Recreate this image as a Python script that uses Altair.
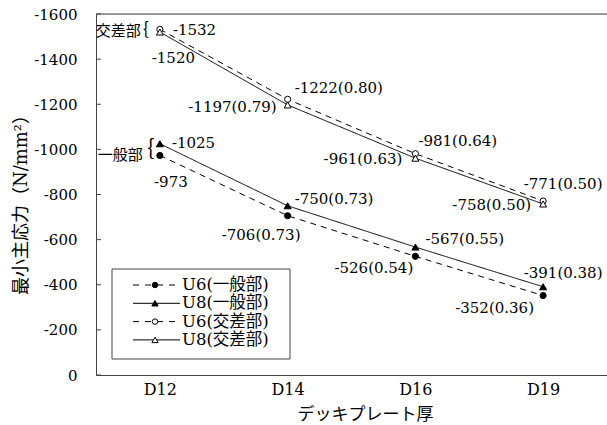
import altair as alt
import pandas as pd

# ---- data ---------------------------------------------------------------
thickness = ["D12", "D14", "D16", "D19"]
series_names = ["U6(一般部)", "U8(一般部)", "U6(交差部)", "U8(交差部)"]

u6_general = [-973, -706, -526, -352]
u8_general = [-1025, -750, -567, -391]
u6_cross = [-1532, -1222, -981, -771]
u8_cross = [-1520, -1197, -961, -758]

u6_general_ratio = [None, 0.73, 0.54, 0.36]
u8_general_ratio = [None, 0.73, 0.55, 0.38]
u6_cross_ratio = [None, 0.80, 0.64, 0.50]
u8_cross_ratio = [None, 0.79, 0.63, 0.50]

y_ticks = [-1600, -1400, -1200, -1000, -800, -600, -400, -200, 0]

values = [u6_general, u8_general, u6_cross, u8_cross]
ratios = [u6_general_ratio, u8_general_ratio, u6_cross_ratio, u8_cross_ratio]

rows = []
for name, vals, rats in zip(series_names, values, ratios):
    for t, v, r in zip(thickness, vals, rats):
        label = f"{v}" if r is None else f"{v}({r:.2f})"
        rows.append({"thickness": t, "series": name, "value": v, "label": label})
df = pd.DataFrame(rows)

# ---- styling ------------------------------------------------------------
SERIF = "DejaVu Serif, Noto Sans CJK JP"
GOTHIC = "Noto Sans CJK JP"
AXIS_GREY = "#444"

dashes = [[6, 5], [1, 0], [6, 5], [1, 0]]
marker_shape = ["circle", "triangle-up", "circle", "triangle-up"]
marker_fill = ["black", "black", "white", "white"]
marker_size = [38, 49, 38, 49]

# value-label placement: (dx, dy, align) per series and thickness
label_pos = {
    "U6(一般部)": [(11, 26.5, "center"), (-26.5, 19.5, "center"), (-41.5, 12, "center"), (-48.5, 12.5, "center")],
    "U8(一般部)": [(12, -1, "left"), (7, -7, "left"), (10, -8, "left"), (20, -14, "center")],
    "U6(交差部)": [(13, 1, "left"), (7, -11, "left"), (3, -12.5, "left"), (20, -17, "center")],
    "U8(交差部)": [(13.5, 26, "center"), (-11, 2, "right"), (-13, 1, "right"), (-12, 1, "right")],
}

# ---- encodings ----------------------------------------------------------
x_enc = alt.X(
    "thickness:N",
    sort=thickness,
    scale=alt.Scale(type="point", padding=0.5, domain=thickness),
    axis=alt.Axis(
        title="デッキプレート厚",
        labelAngle=0,
        labelFont="DejaVu Serif",
        labelFontSize=16,
        labelColor="black",
        labelPadding=6,
        ticks=False,
        tickSize=0,
        domainColor=AXIS_GREY,
        titleFont=GOTHIC,
        titleFontSize=17,
        titleFontWeight="normal",
        titleColor="black",
        titleBaseline="middle",
        titleX=269,
        titleY=39,
    ),
)
y_enc = alt.Y(
    "value:Q",
    scale=alt.Scale(domain=[-1600, 0], reverse=True, nice=False),
    axis=alt.Axis(
        title="最小主応力（N/mm²）",
        values=y_ticks,
        labelExpr="datum.value == 0 ? '0' : '-' + format(-datum.value, 'd')",
        labelFont="DejaVu Serif",
        labelFontSize=15,
        labelColor="black",
        labelPadding=19,
        ticks=False,
        tickSize=0,
        grid=False,
        domainColor=AXIS_GREY,
        titleFont=SERIF,
        titleFontSize=18,
        titleFontWeight="normal",
        titleColor="black",
        titleAngle=270,
        titleBaseline="middle",
        titleAlign="center",
        titleX=-75,
        titleY=186,
    ),
)

# ---- layers -------------------------------------------------------------
top_line = alt.Chart(pd.DataFrame({"value": [-1600]})).mark_rule(
    color=AXIS_GREY, strokeWidth=1
).encode(y=y_enc)

tick_marks = alt.Chart(pd.DataFrame({"value": y_ticks})).mark_rule(
    color=AXIS_GREY, strokeWidth=1
).encode(y=y_enc, x=alt.value(0), x2=alt.value(5))

lines = alt.Chart(df).mark_line(color="black", strokeWidth=1).encode(
    x=x_enc,
    y=y_enc,
    detail="series:N",
    strokeDash=alt.StrokeDash(
        "series:N", scale=alt.Scale(domain=series_names, range=dashes), legend=None
    ),
)

point_layers = []
for name, shp, fill, size in zip(series_names, marker_shape, marker_fill, marker_size):
    point_layers.append(
        alt.Chart(df[df["series"] == name]).mark_point(
            shape=shp, filled=True, fill=fill, stroke="black",
            strokeWidth=1, size=size, opacity=1,
        ).encode(x=x_enc, y=y_enc)
    )

label_layers = []
for name in series_names:
    for i, t in enumerate(thickness):
        dx, dy, align = label_pos[name][i]
        sub = df[(df["series"] == name) & (df["thickness"] == t)]
        label_layers.append(
            alt.Chart(sub).mark_text(
                dx=dx, dy=dy, align=align, baseline="middle",
                font="DejaVu Serif", fontSize=15, color="black",
            ).encode(x=x_enc, y=y_enc, text="label:N")
        )

# group annotations next to the D12 points
cross_anchor = df[(df["series"] == "U8(交差部)") & (df["thickness"] == "D12")]
general_anchor = df[(df["series"] == "U6(一般部)") & (df["thickness"] == "D12")]

annotations = [
    alt.Chart(cross_anchor).mark_text(
        text="交差部", align="right", baseline="middle", dx=-19, dy=-1,
        font=GOTHIC, fontSize=15, color="black",
    ).encode(x=x_enc, y=y_enc),
    alt.Chart(cross_anchor).mark_text(
        text="{", align="center", baseline="middle", dx=-14, dy=-2,
        font=GOTHIC, fontSize=17, color="black",
    ).encode(x=x_enc, y=y_enc),
    alt.Chart(general_anchor).mark_text(
        text="一般部", align="right", baseline="middle", dx=-17, dy=0,
        font=GOTHIC, fontSize=15, color="black",
    ).encode(x=x_enc, y=y_enc),
    alt.Chart(general_anchor).mark_text(
        text="{", align="center", baseline="middle", dx=-9, dy=-6,
        font=GOTHIC, fontSize=21, color="black",
    ).encode(x=x_enc, y=y_enc),
]

# ---- legend box (lower left of the plot) --------------------------------
LEG_LEFT, LEG_RIGHT, LEG_TOP, LEG_BOTTOM = 16, 194, 255, 345
LEG_ROW0, LEG_STEP = 271, 18.3
LEG_LINE0, LEG_LINE1, LEG_MARK, LEG_TEXT = 37, 84, 59, 86

legend_layers = [
    alt.Chart(pd.DataFrame({"series": [""]})).mark_rect(
        fill="white", stroke=AXIS_GREY, strokeWidth=1
    ).encode(
        x=alt.value(LEG_LEFT), x2=alt.value(LEG_RIGHT),
        y=alt.value(LEG_TOP), y2=alt.value(LEG_BOTTOM),
    )
]
for i, (name, dash, shp, fill, size) in enumerate(
    zip(series_names, dashes, marker_shape, marker_fill, marker_size)
):
    row_y = LEG_ROW0 + i * LEG_STEP
    entry = pd.DataFrame({"series": [name]})
    legend_layers.append(
        alt.Chart(entry).mark_rule(
            color="black", strokeWidth=1, strokeDash=[6, 6] if dash[1] else [1, 0]
        ).encode(x=alt.value(LEG_LINE0), x2=alt.value(LEG_LINE1),
                 y=alt.value(row_y), y2=alt.value(row_y))
    )
    legend_layers.append(
        alt.Chart(entry).mark_point(
            shape=shp, filled=True, fill=fill, stroke="black",
            strokeWidth=1, size=size * 0.8, opacity=1,
        ).encode(x=alt.value(LEG_MARK), y=alt.value(row_y))
    )
    legend_layers.append(
        alt.Chart(entry).mark_text(
            align="left", baseline="middle", font=SERIF, fontSize=16.5, color="black",
        ).encode(x=alt.value(LEG_TEXT), y=alt.value(row_y), text="series:N")
    )

chart = alt.layer(
    top_line, tick_marks, lines, *point_layers, *label_layers, *annotations,
    *legend_layers,
).properties(
    width=511,
    height=361,
    autosize=alt.AutoSizeParams(type="none"),
    padding={"left": 96, "top": 14, "right": 0, "bottom": 50},
).configure_view(strokeWidth=0).configure(background="white")

chart.save("out.html", embed_options={"renderer": "svg", "actions": False})
